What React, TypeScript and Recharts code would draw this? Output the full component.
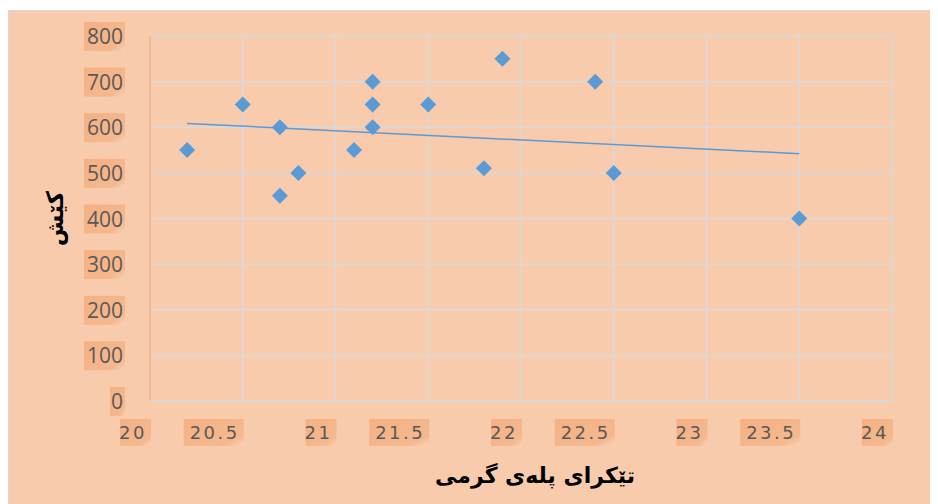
import React from 'react';
import { ScatterChart, Scatter, XAxis, YAxis, CartesianGrid, Label } from 'recharts';

// average temperature (x) against the measured value (y)
const temps = [20.2, 20.5, 20.7, 20.7, 20.8, 21.1, 21.2, 21.2, 21.2, 21.5, 21.8, 21.9, 22.4, 22.5, 23.5];
const values = [550, 650, 600, 450, 500, 550, 700, 650, 600, 650, 510, 750, 700, 500, 400];

const xTicks = [20, 20.5, 21, 21.5, 22, 22.5, 23, 23.5, 24];
const yTicks = [0, 100, 200, 300, 400, 500, 600, 700, 800];

const xTitle = 'تێکرای پلەی گرمی';
const yTitle = 'کێش';

const points = temps.map((t, i) => ({ x: t, y: values[i] }));

// least squares trendline over the data range
const fitLine = () => {
    const n = points.length;
    const mx = temps.reduce((a, b) => a + b, 0) / n;
    const my = values.reduce((a, b) => a + b, 0) / n;
    let sxy = 0;
    let sxx = 0;
    points.forEach(p => {
        sxy += (p.x - mx) * (p.y - my);
        sxx += (p.x - mx) * (p.x - mx);
    });
    const slope = sxy / sxx;
    const lo = Math.min(...temps);
    const hi = Math.max(...temps);
    return [
        { x: lo, y: my + slope * (lo - mx) },
        { x: hi, y: my + slope * (hi - mx) },
    ];
};
const trend = fitLine();

const BLUE = '#5B9BD5';
const GRID = '#D9D9D9';
const TICK = '#595959';

const Diamond: React.FC<any> = ({ cx, cy }) => {
    const r = 8;
    return <polygon points={`${cx},${cy - r} ${cx + r},${cy} ${cx},${cy + r} ${cx - r},${cy}`} fill={BLUE} />;
};

const YTick: React.FC<any> = ({ x, y, payload }) => {
    const label = String(payload.value);
    const w = label.length * 13 + 2;
    const right = x - 19;
    return (
        <g>
            <rect x={right - w + 2} y={y - 14} width={w} height={29} fill="url(#tickBg)" />
            <text x={right} y={y + 8} textAnchor="end" fontSize={21} fill={TICK} fontFamily="Open Sans, sans-serif">
                {label}
            </text>
        </g>
    );
};

const XTick: React.FC<any> = ({ x, y, payload }) => {
    const label = String(payload.value);
    const w = label.length * 14.5 + 2;
    return (
        <g>
            <rect x={x - w + 1} y={y + 10} width={w} height={27} fill="url(#tickBg)" />
            <text x={x - 3} y={y + 30} textAnchor="end" fontSize={18} letterSpacing={2.5} fill={TICK} fontFamily="DejaVu Sans, sans-serif">
                {label}
            </text>
        </g>
    );
};

const YTitle: React.FC<any> = ({ viewBox }) => {
    const cx = 46;
    const cy = viewBox.y + viewBox.height / 2;
    return (
        <text x={cx} y={cy} transform={`rotate(-90 ${cx} ${cy})`} textAnchor="middle" dominantBaseline="central"
            fontSize={23} fontWeight="bold" fill="#000" fontFamily="DejaVu Sans, sans-serif">
            {yTitle}
        </text>
    );
};

const XTitle: React.FC<any> = ({ viewBox }) => {
    const cx = viewBox.x + viewBox.width / 2 + 14;
    return (
        <text x={cx} y={viewBox.y + 82} textAnchor="middle" fontSize={22} fontWeight="bold" fill="#000" fontFamily="DejaVu Sans, sans-serif">
            {xTitle}
        </text>
    );
};

const App: React.FC = () => {
    return (
        <div style={{ marginTop: 2, width: 929, height: 493, background: '#F8CBAD', borderTop: `1px solid ${GRID}`, borderLeft: `1px solid ${GRID}` }}>
            <ScatterChart width={929} height={493} margin={{ top: 25, right: 46, left: 0, bottom: 43 }}>
                <defs>
                    <linearGradient id="tickBg" x1="0" y1="0" x2="1" y2="1">
                        <stop offset="0%" stopColor="#F4B183" />
                        <stop offset="80%" stopColor="#F5B88E" />
                        <stop offset="100%" stopColor="#F9D3B9" />
                    </linearGradient>
                </defs>
                <CartesianGrid stroke={GRID} strokeWidth={1.5} horizontalValues={yTicks} verticalValues={xTicks} />
                <XAxis
                    type="number"
                    dataKey="x"
                    domain={[20, 24]}
                    ticks={xTicks}
                    height={60}
                    axisLine={{ stroke: GRID, strokeWidth: 1.5 }}
                    tickLine={false}
                    tick={<XTick />}
                    interval={0}
                >
                    <Label content={<XTitle />} />
                </XAxis>
                <YAxis
                    type="number"
                    dataKey="y"
                    domain={[0, 800]}
                    ticks={yTicks}
                    width={141}
                    axisLine={{ stroke: '#F4B183', strokeWidth: 1.5 }}
                    tickLine={false}
                    tick={<YTick />}
                    interval={0}
                >
                    <Label content={<YTitle />} />
                </YAxis>
                <Scatter data={trend} line={{ stroke: BLUE, strokeWidth: 1.5 }} shape={() => null} isAnimationActive={false} />
                <Scatter data={points} shape={<Diamond />} isAnimationActive={false} />
            </ScatterChart>
        </div>
    );
};

export default App;
